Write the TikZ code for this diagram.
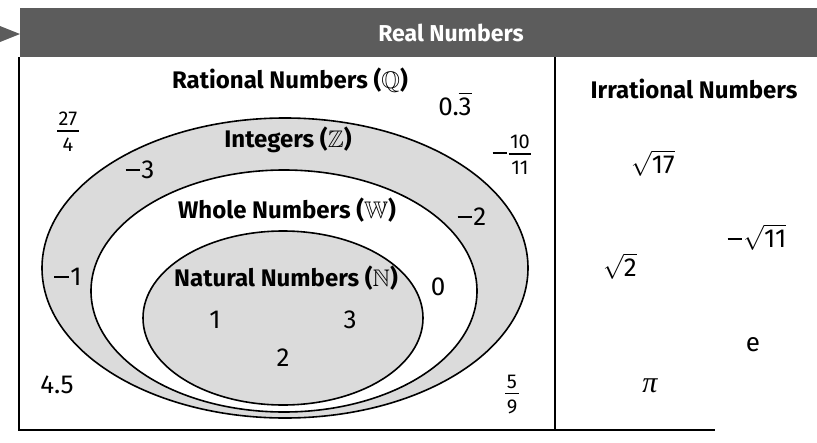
\documentclass[tikz,border=0pt]{standalone}
\usepackage{amsmath,amssymb}
\usepackage{fontspec}
\setmainfont{Fira Sans}
\newfontfamily\pifont{Liberation Serif}
\newcommand\myfrac[2]{{\fontsize{20}{22}\selectfont\setlength{\arrayrulewidth}{1.1pt}\renewcommand{\arraystretch}{0.8}\begin{tabular}{@{\kern1.5pt}c@{\kern1.5pt}}#1\rule[-5pt]{0pt}{5pt}\\\hline\rule{0pt}{19.5pt}#2\end{tabular}}}
\newcommand\mn{\rule[0.3em]{0.55em}{0.075em}\kern0.06em}
\begin{document}
\begin{tikzpicture}[x=1pt,y=-1pt,
  lbl/.style={font=\fontsize{24}{27}\selectfont\bfseries, inner sep=0pt},
  hdr/.style={font=\fontsize{23}{25}\selectfont\bfseries, text=white, inner sep=0pt},
  num/.style={font=\fontsize{26}{29}\selectfont, inner sep=0pt},
  ring/.style={draw=black, line width=1.6pt},
  frameline/.style={line width=1.5pt, draw=black}]
\useasboundingbox (0,0) rectangle (817,442);
% header bar
\fill[black!64] (20,8) rectangle (817,57);
\fill[black!64] (0,26) -- (20,34) -- (0,42) -- cycle;
\node[hdr] (real) at (451,33) {Real Numbers};
% frame
\draw[frameline] (19,57) -- (19,430) -- (715,430);
\draw[frameline] (555,57) -- (555,430);
% ellipses
\draw[ring, fill=black!14] (285,268) ellipse [x radius=243pt, y radius=150pt];
\draw[ring, fill=white] (284,291) ellipse [x radius=193pt, y radius=121pt];
\draw[ring, fill=black!14] (283,318) ellipse [x radius=140pt, y radius=87pt];
% labels
\node[lbl] (rat) at (290,80) {Rational Numbers ($\mathbb{Q}$)};
\node[lbl] (irr) at (694,89) {Irrational Numbers};
\node[lbl] (int) at (288,140) {Integers ($\mathbb{Z}$)};
\node[lbl] (whole) at (287,210) {Whole Numbers ($\mathbb{W}$)};
\node[lbl] (nat) at (286,278) {Natural Numbers ($\mathbb{N}$)};
% rational numbers
\node[num] (q1) at (68,134) {\myfrac{27}{4}};
\node[num] (q2) at (455,104) {0.$\overline{\text{3}}$};
\node[num] (q3) at (512,157) {\mn\myfrac{10}{11}};
\node[num] (q4) at (57,385) {4.5};
\node[num] (q5) at (512,397) {\myfrac{5}{9}};
\node[num] (z1) at (140,170) {\mn3};
\node[num] (z2) at (472,217) {\mn2};
\node[num] (z3) at (68,277) {\mn1};
\node[num] (w0) at (438,287) {0};
\node[num] (n1) at (215,320) {1};
\node[num] (n3) at (350,320) {3};
\node[num] (n2) at (283,358) {2};
% irrational numbers
\node[num] (i1) at (653,163) {$\sqrt{\text{17}}$};
\node[num] (i2) at (757,237) {\mn$\sqrt{\text{11}}$};
\node[num] (i3) at (620,266) {$\sqrt{\text{2}}$};
\node[num] (i4) at (753,345) {e};
\node[num, font=\fontsize{30}{32}\pifont\itshape] (i5) at (650,386) {π};
\end{tikzpicture}
\end{document}
